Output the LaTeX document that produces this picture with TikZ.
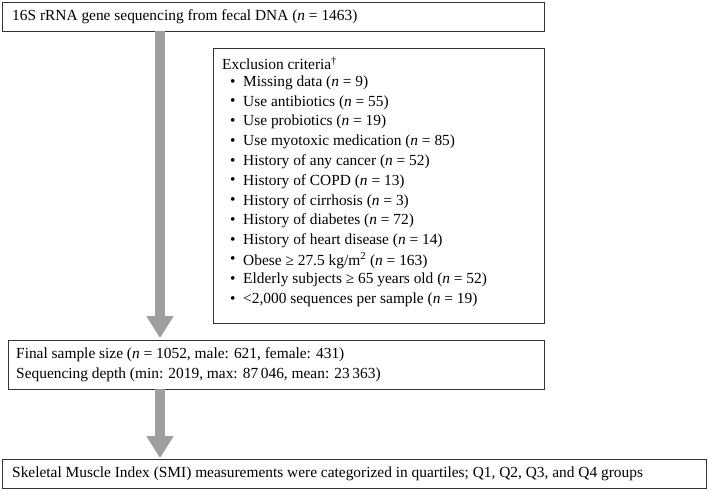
\documentclass[tikz,border=0pt]{standalone}
\usepackage{fontspec}
\setmainfont{Liberation Serif}
\usetikzlibrary{arrows.meta}
\begin{document}
\begin{tikzpicture}[x=1pt,y=-1pt,
  box/.style={draw=black!80,line width=1pt,inner sep=0pt},
  txt/.style={anchor=west,inner sep=0pt,font=\fontsize{15.4}{19.75}\selectfont},
  bigarrow/.style={draw=gray!75,line width=10.5pt,-{Triangle[width=26pt,length=22pt]}}]
\useasboundingbox (0,0) rectangle (709,490);
\draw[box] (2,2) rectangle (544,31);
\node[txt] (t1) at (12,16.5) {16S rRNA gene sequencing from fecal DNA (\emph{n} = 1463)};
\draw[box] (213,48) rectangle (544,323);
\node[txt] (ex) at (222,63) {Exclusion criteria\textsuperscript{\dag}};
\foreach \t [count=\i] in {Missing data (\emph{n} = 9),
 Use antibiotics (\emph{n} = 55),
 Use probiotics (\emph{n} = 19),
 Use myotoxic medication (\emph{n} = 85),
 History of any cancer (\emph{n} = 52),
 History of COPD (\emph{n} = 13),
 History of cirrhosis (\emph{n} = 3),
 History of diabetes (\emph{n} = 72),
 History of heart disease (\emph{n} = 14),
 Obese ≥ 27.5 kg/m\textsuperscript{2} (\emph{n} = 163),
 Elderly subjects ≥ 65 years old (\emph{n} = 52),
 <2{,}000 sequences per sample (\emph{n} = 19)}
 {\node[txt] (bul\i) at (230,63+\i*19.75) {\textbullet};
  \node[txt] (it\i) at (243,63+\i*19.75) {\t};}
\draw[box] (8,340) rectangle (544,389);
\node[txt] (f1) at (16,355) {Final sample size (\emph{n} = 1052, male: 621, female: 431)};
\node[txt] (f2) at (16,375) {Sequencing depth (min: 2019, max: 87\,046, mean: 23\,363)};
\draw[box] (2,459) rectangle (706,488);
\node[txt] (b) at (12,473.5) {Skeletal Muscle Index (SMI) measurements were categorized in quartiles; Q1, Q2, Q3, and Q4 groups};
\coordinate (a1s) at (160,31); \coordinate (a1e) at (160,338);
\coordinate (a2s) at (160,389); \coordinate (a2e) at (160,458);
\draw[bigarrow] (a1s) -- (a1e);
\draw[bigarrow] (a2s) -- (a2e);
\end{tikzpicture}
\end{document}
